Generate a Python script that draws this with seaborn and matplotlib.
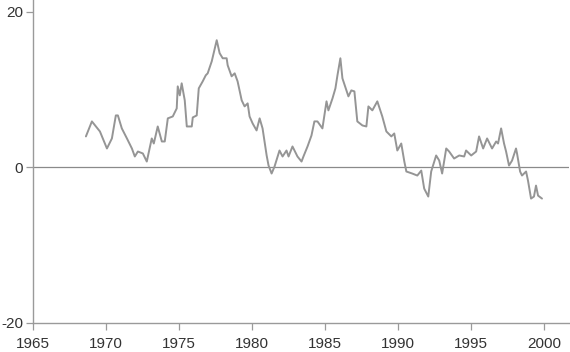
import matplotlib
matplotlib.use("Agg")
import matplotlib.pyplot as plt
import seaborn as sns
import pandas as pd

# values
years = [
    1968.62, 1969.03, 1969.58, 1970.06, 1970.40, 1970.67, 1970.81, 1971.08,
    1971.43, 1971.77, 1971.97, 1972.18, 1972.52, 1972.79, 1973.13, 1973.27,
    1973.54, 1973.82, 1974.02, 1974.23, 1974.57, 1974.84, 1974.91, 1975.05,
    1975.18, 1975.39, 1975.53, 1975.87, 1975.94, 1976.21, 1976.35, 1976.62,
    1976.83, 1976.96, 1977.24, 1977.58, 1977.78, 1977.99, 1978.26, 1978.33,
    1978.60, 1978.81, 1979.01, 1979.29, 1979.49, 1979.70, 1979.83, 1980.04,
    1980.31, 1980.52, 1980.72, 1981.00, 1981.13, 1981.34, 1981.54, 1981.88,
    1982.09, 1982.36, 1982.50, 1982.77, 1983.11, 1983.39, 1983.52, 1983.80,
    1984.07, 1984.27, 1984.48, 1984.82, 1985.10, 1985.23, 1985.51, 1985.71,
    1985.85, 1986.05, 1986.19, 1986.46, 1986.60, 1986.80, 1987.01, 1987.21,
    1987.56, 1987.83, 1987.97, 1988.24, 1988.58, 1988.92, 1989.20, 1989.54,
    1989.74, 1989.95, 1990.22, 1990.43, 1990.57, 1990.97, 1991.32, 1991.59,
    1991.79, 1992.07, 1992.27, 1992.61, 1992.82, 1993.02, 1993.30, 1993.50,
    1993.84, 1994.19, 1994.53, 1994.66, 1995.01, 1995.35, 1995.55, 1995.83,
    1996.10, 1996.44, 1996.72, 1996.85, 1997.06, 1997.26, 1997.40, 1997.60,
    1997.81, 1998.08, 1998.15, 1998.36, 1998.49, 1998.77, 1998.90, 1999.11,
    1999.31, 1999.45, 1999.59, 1999.86,
]
values = [
    3.96, 5.89, 4.60, 2.41, 3.70, 6.66, 6.66, 4.99,
    3.70, 2.41, 1.38, 2.02, 1.77, 0.73, 3.70, 3.05,
    5.24, 3.31, 3.31, 6.28, 6.53, 7.56, 10.40, 9.24,
    10.79, 8.60, 5.24, 5.24, 6.40, 6.66, 10.14, 11.04,
    11.82, 12.07, 13.62, 16.33, 14.66, 14.01, 14.01, 13.11,
    11.69, 12.07, 11.04, 8.60, 7.82, 8.21, 6.53, 5.63,
    4.73, 6.28, 4.99, 1.51, 0.22, -0.81, 0.09, 2.15,
    1.38, 2.15, 1.38, 2.67, 1.38, 0.73, 1.38, 2.67,
    4.08, 5.89, 5.89, 4.99, 8.47, 7.31, 8.85, 10.14,
    11.82, 14.01, 11.43, 9.88, 9.11, 9.88, 9.75, 5.89,
    5.37, 5.24, 7.82, 7.31, 8.47, 6.53, 4.60, 3.96,
    4.34, 2.15, 3.05, 0.73, -0.55, -0.81, -1.07, -0.43,
    -2.74, -3.77, -0.55, 1.51, 0.86, -0.81, 2.41, 2.02,
    1.12, 1.51, 1.38, 2.15, 1.51, 2.02, 3.96, 2.41,
    3.70, 2.41, 3.31, 3.05, 4.99, 3.05, 2.02, 0.22,
    0.86, 2.41, 1.77, -0.55, -1.07, -0.55, -1.71, -4.03,
    -3.77, -2.36, -3.65, -4.03,
]
x_ticks = [1965, 1970, 1975, 1980, 1985, 1990, 1995, 2000]
y_ticks = [-20, 0, 20]

df = pd.DataFrame({"year": years, "value": values})

sns.set_style("ticks")
plt.rcParams["font.family"] = ["Liberation Sans", "DejaVu Sans"]
plt.rcParams["axes.unicode_minus"] = False

fig = plt.figure(figsize=(5.7, 3.52), dpi=100)
ax = fig.add_axes([0.058, 0.083, 0.94, 0.917])

ax.axhline(0, color="#8a8a8a", linewidth=0.9, zorder=1)
sns.lineplot(data=df, x="year", y="value", color="#959595",
             linewidth=1.4, ax=ax, zorder=2)

ax.set_xlim(1965, 2001.7)
ax.set_ylim(-20, 21.5)
ax.set_xticks(x_ticks)
ax.set_yticks(y_ticks)
ax.set_xlabel("")
ax.set_ylabel("")

for side in ["top", "right"]:
    ax.spines[side].set_visible(False)
for side in ["left", "bottom"]:
    ax.spines[side].set_color("#9a9a9a")
    ax.spines[side].set_linewidth(1.0)
ax.tick_params(axis="both", length=5, width=0.9, color="#9a9a9a",
               labelsize=11, labelcolor="#333333")
ax.tick_params(axis="x", pad=5)
ax.tick_params(axis="y", pad=2)

fig.savefig("out.png", dpi=100)
